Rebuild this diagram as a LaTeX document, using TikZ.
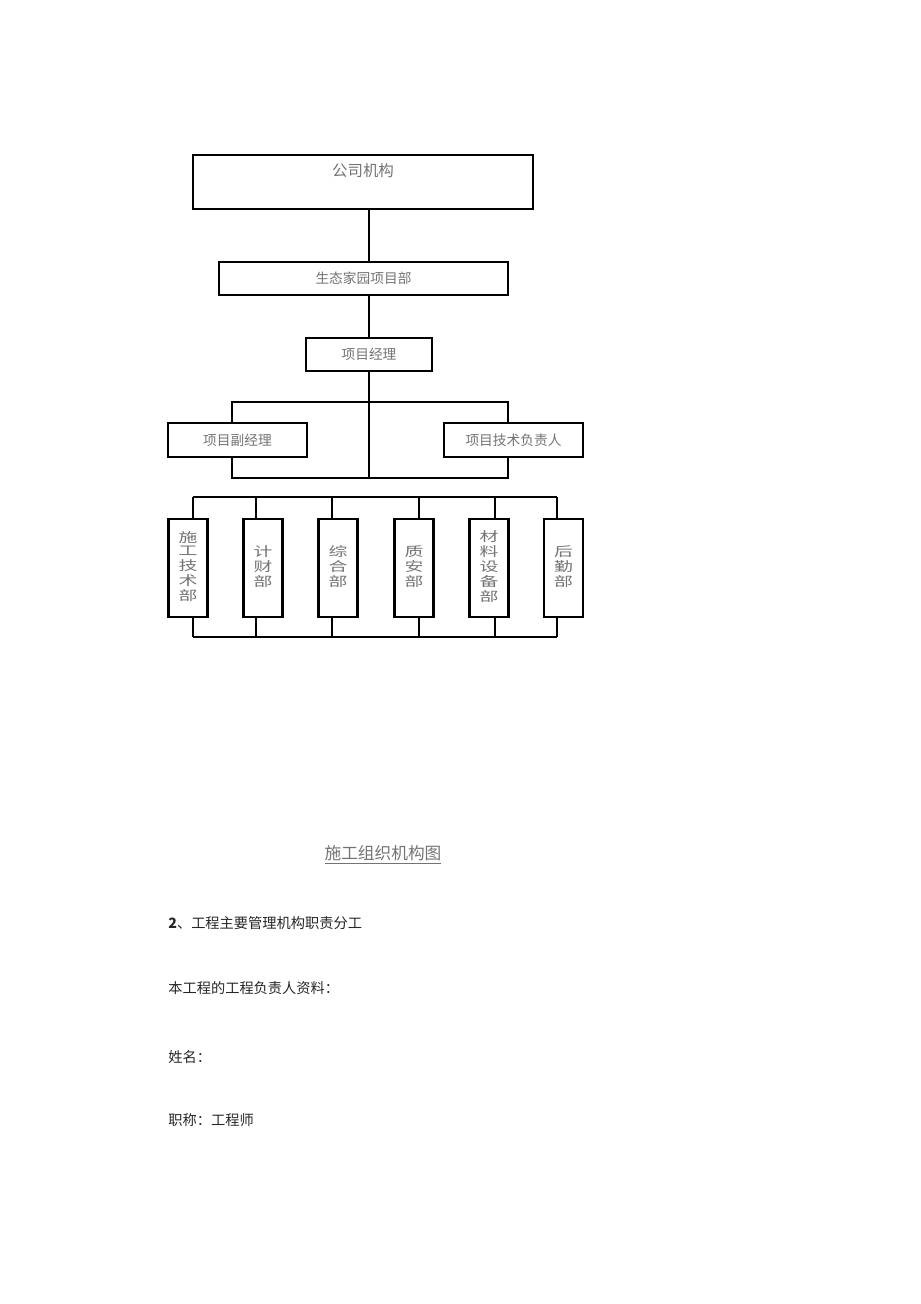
\documentclass[tikz,border=0pt]{standalone}
\usepackage{fontspec}
\newfontfamily\cjk{Noto Sans CJK SC}
\newcommand\vlabel[1]{\scalebox{1.45}[1]{\begin{tabular}{@{}c@{}}#1\end{tabular}}}
\tikzset{
  orgbox/.style={draw, line width=1.2pt, fill=white, inner sep=0pt, text=black!55,
    font=\cjk\fontsize{7.8pt}{9pt}\selectfont},
  deptbox/.style={orgbox, minimum width=0.78cm, minimum height=1.96cm,
    font=\cjk\fontsize{7.4pt}{7.6pt}\selectfont},
  link/.style={line width=1pt},
  bodytext/.style={anchor=west, inner sep=0pt, text=black!85,
    font=\cjk\fontsize{8.1pt}{9pt}\selectfont},
}
\begin{document}
\begin{tikzpicture}[x=0.02cm,y=-0.02cm]
    \useasboundingbox (0,0) rectangle (920,1304);
    % upper part
    \node[orgbox,minimum width=6.8cm,minimum height=1.08cm] (gs) at (363,182) {};
    \node[text=black!55,font=\cjk\fontsize{8.8pt}{10pt}\selectfont] (gst) at ([yshift=-0.34cm]gs.north) {公司机构};
    \node[orgbox,minimum width=5.78cm,minimum height=0.66cm] (sx) at (363.5,278.5) {生态家园项目部};
    \node[orgbox,minimum width=2.52cm,minimum height=0.66cm] (jl) at (369,354.5) {项目经理};
    \node[orgbox,minimum width=2.78cm,minimum height=0.68cm] (fj) at (237.5,440) {项目副经理};
    \node[orgbox,minimum width=2.78cm,minimum height=0.68cm] (js) at (513.5,440) {项目技术负责人};
    \coordinate (bl) at (232,402);
    \coordinate (br) at (508,402);
    \coordinate (bbl) at (232,478);
    \coordinate (bbr) at (508,478);
    \draw[link] (gs.south -| jl) -- (sx.north -| jl);
    \draw[link] (sx.south -| jl) -- (jl.north);
    \draw[link] (jl.south) -- (jl |- bbl);
    \draw[link] (fj.north -| bl) -- (bl) -- (br) -- (js.north -| br);
    \draw[link] (fj.south -| bl) -- (bbl) -- (bbr) -- (js.south -| br);
    % departments
    \node[deptbox] (d1) at (188,568) {\vlabel{施\\工\\技\\术\\部}};
    \node[deptbox] (d2) at (263,568) {\vlabel{计\\财\\部}};
    \node[deptbox] (d3) at (338,568) {\vlabel{综\\合\\部}};
    \node[deptbox] (d4) at (414,568) {\vlabel{质\\安\\部}};
    \node[deptbox] (d5) at (489,568) {\vlabel{材\\料\\设\\备\\部}};
    \node[deptbox] (d6) at (563.5,568) {\vlabel{后\\勤\\部}};
    \coordinate (tl) at (193,497);
    \coordinate (tr) at (557,497);
    \coordinate (ul) at (193,637);
    \coordinate (ur) at (557,637);
    \draw[link] (tl) -- (tr);
    \draw[link] (ul) -- (ur);
    \foreach \n/\dx in {1/0.1,2/-0.14,3/-0.12,4/0.1,5/0.12,6/-0.13}{
      \draw[link] ([xshift=\dx cm]d\n.north) -- ([xshift=\dx cm]d\n.north |- tl);
      \draw[link] ([xshift=\dx cm]d\n.south) -- ([xshift=\dx cm]d\n.south |- ul);
    }
    % caption and text below
    \node[text=black!55,inner sep=0pt,font=\cjk\fontsize{9.5pt}{11pt}\selectfont] (cap) at (383,855) {\underline{施工组织机构图}};
    \node[bodytext] (t1) at (168,923) {\textbf{2}、工程主要管理机构职责分工};
    \node[bodytext] (t2) at (168,988) {本工程的工程负责人资料：};
    \node[bodytext] (t3) at (168,1057) {姓名：};
    \node[bodytext] (t4) at (168,1120) {职称：工程师};
\end{tikzpicture}
\end{document}
